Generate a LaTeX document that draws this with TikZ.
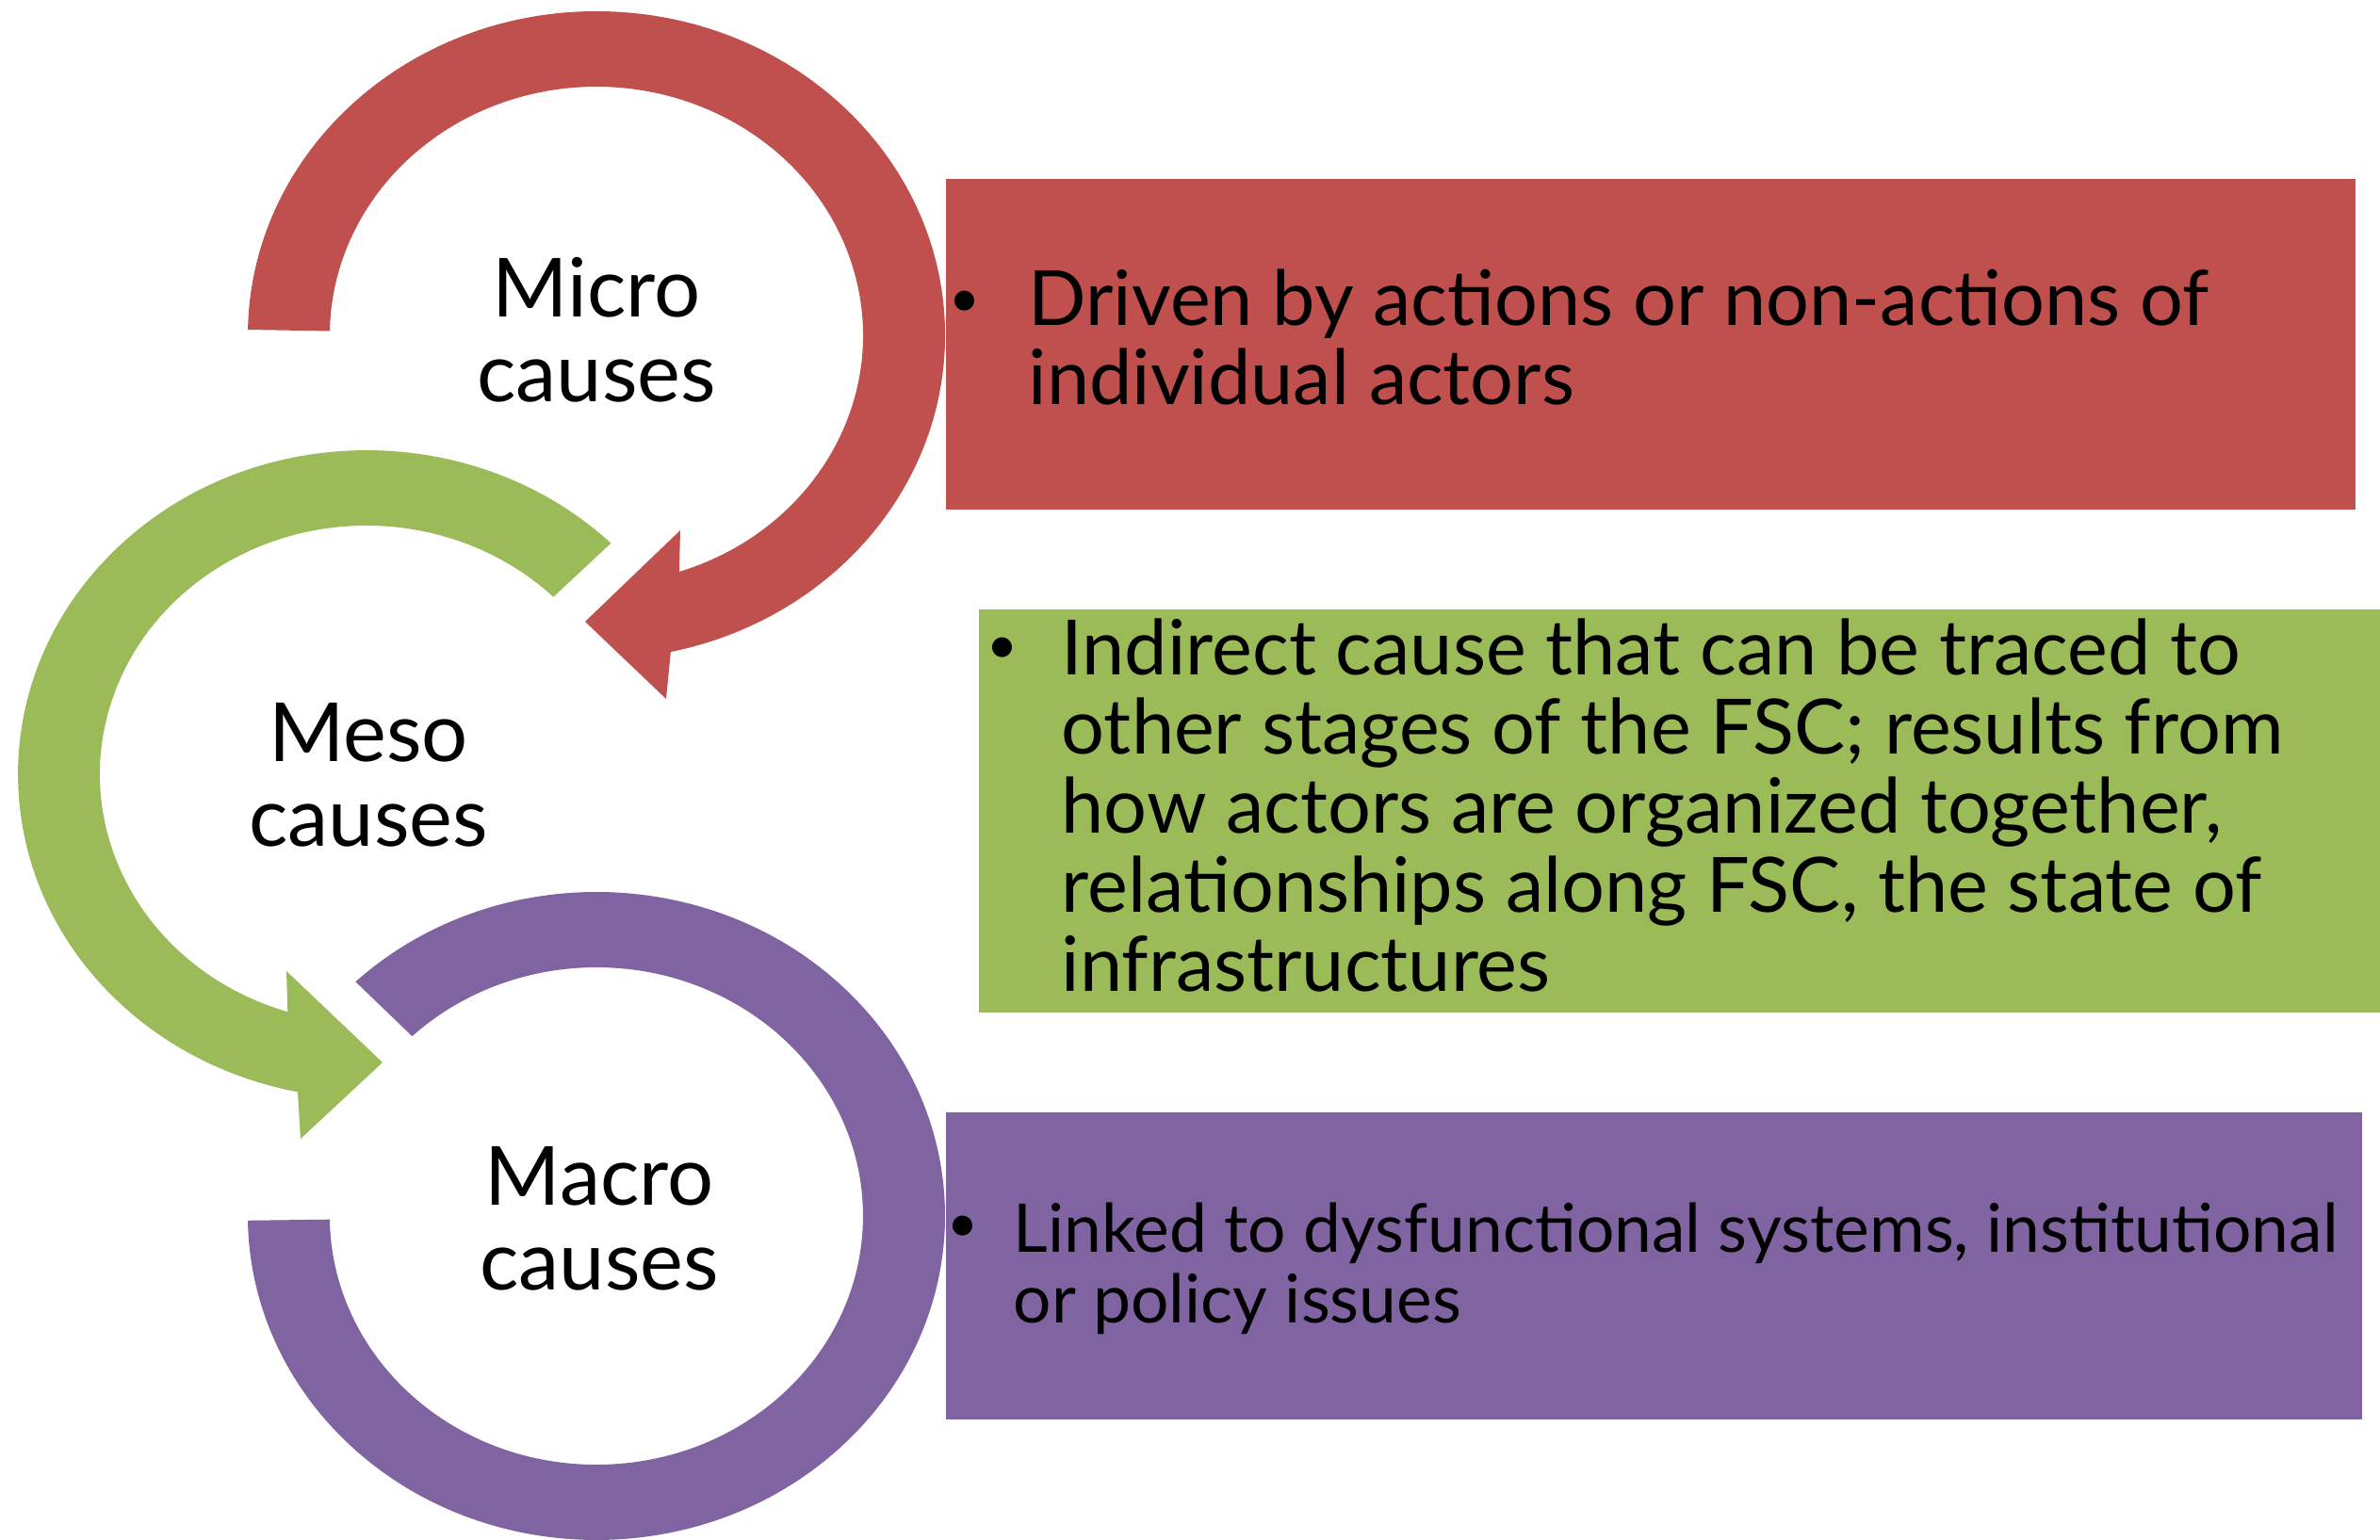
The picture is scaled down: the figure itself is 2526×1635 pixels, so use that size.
\documentclass[tikz,border=0pt]{standalone}
\usepackage{fontspec}
\setmainfont{Lato}
\usepackage{tikz}

\definecolor{microred}{RGB}{192,80,77}
\definecolor{mesogreen}{RGB}{155,187,89}
\definecolor{macropurple}{RGB}{128,100,162}

\begin{document}
\begin{tikzpicture}[x=0.3pt,y=0.3pt,yscale=-1,xscale=1,
    causelabel/.style={align=center,anchor=base,inner sep=0pt,font=\fontsize{26}{27}\selectfont},
    boxtext/.style={align=left,anchor=base west,inner sep=0pt,font=\fontsize{24.3}{25.2}\selectfont},
    boxbullet/.style={anchor=center,inner sep=0pt,font=\fontsize{17}{17}\selectfont}]
\useasboundingbox (0,0) rectangle (2526,1635);

%Shape: Circular Arrow [id:micro]
\fill [microred] (263.1,350) arc [start angle=181, end angle=437.7, x radius=370, y radius=344] -- (707,742) -- (621,660) -- (722,563) -- (720.9,607) arc [start angle=431.9, end angle=181, x radius=283, y radius=264] -- cycle ;
%Shape: Circular Arrow [id:meso]
\fill [mesogreen] (648.4,576.7) arc [start angle=-45.5, end angle=-258.6, x radius=370, y radius=344] -- (319,1209) -- (406,1128) -- (304,1031) -- (305.3,1074.2) arc [start angle=-252.8, end angle=-45.5, x radius=283, y radius=264] -- cycle ;
%Shape: Block Arc [id:macro]
\fill [macropurple] (377.4,1042.3) arc [start angle=226.3, end angle=539.2, x radius=370, y radius=344] -- (350,1294.7) arc [start angle=539.2, end angle=226.3, x radius=283, y radius=264] -- cycle ;

%Shape: Rectangle [id:microbox]
\fill [microred] (1004,190) -- (2500,190) -- (2500,541) -- (1004,541) -- cycle ;
%Shape: Rectangle [id:mesobox]
\fill [mesogreen] (1039,647) -- (2526,647) -- (2526,1075) -- (1039,1075) -- cycle ;
%Shape: Rectangle [id:macrobox]
\fill [macropurple] (1004,1181) -- (2507,1181) -- (2507,1507) -- (1004,1507) -- cycle ;

% Text Node
\node [causelabel] (micro) at (633,427) {Micro\\causes};
% Text Node
\node [causelabel] (meso) at (391,898) {Meso\\causes};
% Text Node
\node [causelabel] (macro) at (636,1369) {Macro\\causes};

% Text Node
\node [boxbullet] (microdot) at (1024,323) {\textbullet};
\node [boxtext] (microtxt) at (1091,430) {Driven by actions or non-actions of\\individual actors};
% Text Node
\node [boxbullet] (mesodot) at (1064,691) {\textbullet};
\node [boxtext] (mesotxt) at (1126,1052) {Indirect cause that can be traced to\\other stages of the FSC; results from\\how actors are organized together,\\relationships along FSC, the state of\\infrastructures};
% Text Node
\node [boxbullet] (macrodot) at (1022,1305) {\textbullet};
\node [boxtext,font=\fontsize{21.4}{22.5}\selectfont] (macrotxt) at (1075,1404) {Linked to dysfunctional systems, institutional\\or policy issues};

\end{tikzpicture}
\end{document}
